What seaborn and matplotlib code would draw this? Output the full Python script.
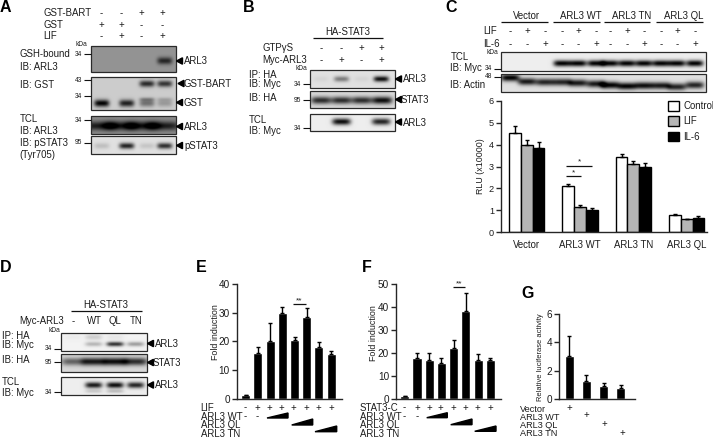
import numpy as np
import pandas as pd
import matplotlib
matplotlib.use('Agg')
import matplotlib.pyplot as plt
from matplotlib.patches import Polygon, Rectangle
import seaborn as sns

W, H = 713, 438

# bar chart values
c_groups = ['Vector', 'ARL3 WT', 'ARL3 TN', 'ARL3 QL']
c_treat = ['Control', 'LIF', 'IL-6']
c_control = [4.55, 2.1, 3.45, 0.78]
c_lif = [4.0, 1.15, 3.1, 0.58]
c_il6 = [3.85, 1.0, 2.97, 0.66]
c_control_err = [0.3, 0.1, 0.13, 0.04]
c_lif_err = [0.2, 0.07, 0.15, 0.02]
c_il6_err = [0.25, 0.1, 0.18, 0.06]

e_vals = [1.2, 16, 20, 30, 20.3, 28.5, 18, 15.7]
e_err = [0, 1.9, 6.5, 2, 1.3, 3, 1.9, 1]
f_vals = [1, 17.5, 17, 15.7, 22, 38, 17, 17]
f_err = [0, 2.5, 3, 1.8, 3.5, 8, 2.3, 0.8]
g_vals = [3, 1.3, 0.9, 0.75]
g_err = [1.4, 0.4, 0.2, 0.25]

# lane signs
a_bart = ['-', '-', '+', '+']
a_gst = ['+', '+', '-', '-']
a_lif = ['-', '+', '-', '+']
b_gtp = ['-', '-', '+', '+']
b_myc = ['-', '+', '-', '+']
c_lif_signs = ['-', '+', '-'] * 4
c_il6_signs = ['-', '-', '+'] * 4
d_lanes = ['-', 'WT', 'QL', 'TN']
ef_signs = ['-', '+', '+', '+', '+', '+', '+', '+']

# band intensities per lane
a_gsh = [0, 0, 0, 0.75]
a_bart_band = [0, 0, 0.8, 0.75]
a_gst_band = [1, 0.85, 0.45, 0.25]
a_gst_upper = [0, 0, 0.3, 0.15]
a_tcl = [0.8, 0.8, 0.8, 0.8]
a_pstat = [0.15, 0.85, 0.12, 0.8]
b_ip = [0.05, 0.45, 0.05, 0.95]
b_ha = [0.8, 0.8, 0.8, 0.95]
b_tcl = [0, 0.95, 0, 0.85]
c_myc = [0, 0, 0] + [1] * 9
c_actin = [1, 0.9, 0.85, 0.85, 0.9, 0.9, 1, 1, 0.95, 0.9, 0.85, 0.85]
c_actin_y = [0.2, 0.42, 0.45, 0.45, 0.5, 0.55, 0.62, 0.68, 0.65, 0.65, 0.72, 0.62]
d_ip = [0, 0.25, 0.8, 0.35]
d_ip_upper = [0.03, 0.15, 0.05, 0]
d_ha = [0.55, 0.9, 0.95, 0.8]
d_tcl = [0, 0.9, 0.95, 0.85]
d_tcl_lower = [0, 0.15, 0.2, 0]

TXT = '#1c1c1c'

sns.set_style('ticks')
plt.rcParams['font.family'] = ['Liberation Sans', 'DejaVu Sans']
plt.rcParams['axes.linewidth'] = 1.0

fig = plt.figure(figsize=(W / 100, H / 100), dpi=100)


def px_axes(x0, y_top, x1, y_bot):
    return fig.add_axes([x0 / W, 1 - y_bot / H, (x1 - x0) / W, (y_bot - y_top) / H])


ov = fig.add_axes([0, 0, 1, 1], zorder=5)
ov.patch.set_alpha(0)
ov.axis('off')


def t(x, y, s, size=6.9, ha='left', **kw):
    ov.text(x, y, s, fontsize=size, ha=ha, va='center', color=TXT, **kw)


def signs(xs, y, row, size=6.9):
    for x, s in zip(xs, row):
        t(x, y, s, size=size, ha='center')


def hline(x0, x1, y, lw=0.9):
    ov.plot([x0, x1], [y, y], color='#111111', lw=lw, solid_capstyle='butt')


def blot(x0, y0, x1, y1, bg, lanes, bands, sx=0.09):
    # bands: (intensities, y position as fraction, band half height as fraction)
    nx, ny = max(int((x1 - x0) * 2), 2), max(int((y1 - y0) * 2), 2)
    xx, yy = np.meshgrid(np.linspace(0, 1, nx), np.linspace(0, 1, ny))
    img = np.full((ny, nx), float(bg))
    for vals, yf, sy in bands:
        yfs = yf if isinstance(yf, list) else [yf] * len(vals)
        for lane, v, yc in zip(lanes, vals, yfs):
            img -= v * bg * np.exp(-((xx - lane) / sx) ** 4 - ((yy - yc) / sy) ** 2)
    ov.imshow(np.clip(img, 0, 1), cmap='gray', vmin=0, vmax=1, aspect='auto',
              extent=(x0, x1, y1, y0), interpolation='bilinear')
    ov.add_patch(Rectangle((x0, y0), x1 - x0, y1 - y0, fill=False, ec='#2a2a2a', lw=0.9))


def kda(x_label, x0, x1, y, s):
    t(x_label, y, s, size=4.8, ha='right')
    hline(x0, x1, y, lw=0.8)


def arrow(x, y, label, xt=None):
    ov.add_patch(Polygon([[x, y], [x + 6, y - 3.2], [x + 6, y + 3.2]], color='black'))
    t(xt if xt else x + 7.5, y + 0.5, label)


def wedge(x0, x1, y_base, y_top):
    ov.add_patch(Polygon([[x0, y_base], [x1, y_top], [x1, y_base]], color='black'))


def style_bar_axis(ax, ticks, ylabel_size=7.2):
    sns.despine(ax=ax)
    ax.set_xlabel('')
    ax.set_ylabel('')
    ax.set_xticks([])
    ax.set_yticks(ticks)
    ax.tick_params(axis='y', labelsize=ylabel_size, length=3.5, width=1, pad=1.5, labelcolor=TXT)
    ax.patch.set_alpha(0)


def simple_bars(axbox, vals, err, ymax, ticks, xlim, width):
    ax = px_axes(*axbox)
    df = pd.DataFrame({'lane': [str(i) for i in range(len(vals))], 'value': vals})
    sns.barplot(data=df, x='lane', y='value', color='black', width=width, errorbar=None,
                saturation=1, ax=ax)
    xs = [p.get_x() + p.get_width() / 2 for p in ax.patches]
    ax.errorbar(xs, vals, yerr=[np.zeros(len(err)), err], fmt='none', ecolor='black',
                elinewidth=1, capsize=1.6, capthick=1)
    ax.set_xlim(*xlim)
    ax.set_ylim(0, ymax)
    style_bar_axis(ax, ticks)
    return ax


# panel letters
for x, y, s in [(0, 8, 'A'), (243, 8, 'B'), (445, 7, 'C'), (0, 267, 'D'),
                (196, 267, 'E'), (362, 267, 'F'), (521, 294, 'G')]:
    ov.text(x, y, s, fontsize=11.5, fontweight='bold', ha='left', va='center', color='black')

# ---- panel A
a_x = [101, 121, 141, 162]
t(43, 13, 'GST-BART')
t(43, 25, 'GST')
t(43, 36, 'LIF')
signs(a_x, 13, a_bart)
signs(a_x, 25, a_gst)
signs(a_x, 36, a_lif)
a_l = [0.125, 0.42, 0.66, 0.87]
blot(91, 46, 176, 72, 0.58, a_l, [(a_gsh, 0.57, 0.14)])
blot(91, 77, 176, 110, 0.8, a_l, [(a_bart_band, 0.2, 0.1), (a_gst_band, 0.8, 0.11), (a_gst_upper, 0.68, 0.06)])
blot(91, 116, 176, 134, 0.55, [0.1, 0.35, 0.6, 0.85], [(a_tcl, 0.55, 0.25)], sx=0.2)
blot(91, 136, 176, 154, 0.88, a_l, [(a_pstat, 0.55, 0.17)])
t(19.5, 54, 'GSH-bound')
t(19.5, 66.5, 'IB: ARL3')
t(19.5, 84.5, 'IB: GST')
t(19.5, 119.5, 'TCL')
t(19.5, 130.5, 'IB: ARL3')
t(19.5, 143.5, 'IB: pSTAT3')
t(19.5, 155, '(Tyr705)')
t(87, 44.5, 'kDa', size=4.8, ha='right')
kda(82, 84, 91, 54, '34')
kda(82, 84, 91, 80, '43')
kda(82, 84, 91, 96, '34')
kda(82, 84, 91, 120, '34')
kda(82, 84, 91, 143, '95')
arrow(176.5, 61, 'ARL3')
arrow(178, 83.5, 'GST-BART', xt=183.5)
arrow(176.5, 102.5, 'GST')
arrow(176.5, 126.5, 'ARL3')
arrow(176.5, 145.5, 'pSTAT3')

# ---- panel B
b_x = [321, 341, 361, 381]
t(348, 32, 'HA-STAT3', ha='center')
hline(313, 383, 38)
t(262.5, 48, 'GTPγS')
t(262.5, 60, 'Myc-ARL3')
signs(b_x, 48, b_gtp)
signs(b_x, 60, b_myc)
b_l = [0.125, 0.37, 0.61, 0.84]
blot(310, 70, 395, 88, 0.88, b_l, [(b_ip, 0.5, 0.16)])
blot(310, 91, 395, 108, 0.85, [0.13, 0.37, 0.61, 0.85], [(b_ha, 0.55, 0.22)], sx=0.12)
blot(310, 114, 395, 131, 0.93, b_l, [(b_tcl, 0.45, 0.2)], sx=0.11)
t(249, 74.5, 'IP: HA')
t(249, 84, 'IB: Myc')
t(249, 98, 'IB: HA')
t(249, 120, 'TCL')
t(249, 131, 'IB: Myc')
t(307, 68.5, 'kDa', size=4.8, ha='right')
kda(301, 303, 310, 84, '34')
kda(301, 303, 310, 100, '95')
kda(301, 303, 310, 128, '34')
arrow(395.5, 79, 'ARL3')
arrow(395.5, 99.5, 'STAT3', xt=401)
arrow(395.5, 122, 'ARL3')

# ---- panel C blots
c_x = [510, 527, 545, 562, 578, 596, 610, 627, 644, 661, 677, 695]
for cx, (x0, x1), name in zip([527, 577, 628, 680],
                              [(501, 548), (553, 600), (604, 650), (656, 703)],
                              ['Vector', 'ARL3 WT', 'ARL3 TN', 'ARL3 QL']):
    t(cx + 4 if name != 'Vector' else cx, 16, name, ha='center')
    hline(x0, x1, 22)
t(483, 31, 'LIF')
t(483, 44, 'IL-6')
signs(c_x, 31, c_lif_signs)
signs(c_x, 44, c_il6_signs)
c_l = [(x - 501) / 205 for x in c_x]
blot(501, 52, 706, 71, 0.93, c_l, [(c_myc, 0.6, 0.17)], sx=0.042)
blot(501, 74, 706, 92, 0.88, c_l, [(c_actin, c_actin_y, 0.2)], sx=0.045)
t(450.5, 57, 'TCL')
t(450.5, 68, 'IB: Myc')
t(450.5, 84.5, 'IB: Actin')
t(498, 52.5, 'kDa', size=4.8, ha='right')
kda(492, 494, 501, 69, '34')
kda(492, 494, 501, 77, '48')

# ---- panel C bars
ax_c = px_axes(501, 101, 706.7, 232)
df_c = pd.DataFrame({
    'group': c_groups * 3,
    'treat': np.repeat(c_treat, 4),
    'value': c_control + c_lif + c_il6,
})
sns.barplot(data=df_c, x='group', y='value', hue='treat', order=c_groups, hue_order=c_treat,
            palette=['white', '#b5b5b5', 'black'], width=0.665, gap=0, saturation=1,
            errorbar=None, edgecolor='black', linewidth=1, ax=ax_c)
for cont, err in zip(ax_c.containers, [c_control_err, c_lif_err, c_il6_err]):
    xs = [b.get_x() + b.get_width() / 2 for b in cont]
    ys = [b.get_height() for b in cont]
    ax_c.errorbar(xs, ys, yerr=[np.zeros(4), err], fmt='none', ecolor='black',
                  elinewidth=1, capsize=1.6, capthick=1)
ax_c.set_xlim(-0.483, 3.376)
ax_c.set_ylim(0, 6)
handles, labels = ax_c.get_legend_handles_labels()
style_bar_axis(ax_c, [0, 1, 2, 3, 4, 5, 6], ylabel_size=6.6)
ax_c.set_xticks(range(4))
ax_c.set_xticklabels(c_groups, fontsize=6.9, color=TXT)
ax_c.tick_params(axis='x', length=0, pad=6)
ax_c.legend(handles, labels, loc='upper left', bbox_to_anchor=(0.812, 1.0), frameon=False,
            fontsize=6.9, handlelength=1.15, handleheight=1.15, handletextpad=0.45,
            labelspacing=0.55, borderpad=0, borderaxespad=0, labelcolor=TXT)
ax_c.spines['bottom'].set_linewidth(1)
t(480.7, 166, 'RLU (x10000)', size=6.4, ha='center', rotation=90)
hline(565.7, 591.7, 166)
hline(565.7, 580.7, 176.3)
t(580, 162, '*', size=6, ha='center')
t(573.7, 172.5, '*', size=6, ha='center')

# ---- panel D
d_x = [73, 94, 115, 136]
t(106, 305, 'HA-STAT3', ha='center')
hline(71, 142, 311)
t(19, 321, 'Myc-ARL3')
signs(d_x, 321, d_lanes)
d_l = [0.14, 0.38, 0.63, 0.87]
blot(61, 333, 147, 351, 0.95, d_l, [(d_ip, 0.62, 0.13), (d_ip_upper, 0.22, 0.16)], sx=0.1)
blot(61, 354, 147, 372, 0.85, d_l, [(d_ha, 0.42, 0.22)], sx=0.14)
blot(61, 377, 147, 395, 0.93, d_l, [(d_tcl, 0.45, 0.17), (d_tcl_lower, 0.8, 0.1)], sx=0.1)
t(2, 336, 'IP: HA')
t(2, 345, 'IB: Myc')
t(2, 360, 'IB: HA')
t(2, 382, 'TCL')
t(2, 393, 'IB: Myc')
t(60, 331, 'kDa', size=4.8, ha='right')
kda(52, 54, 61, 349, '34')
kda(52, 54, 61, 362, '95')
kda(52, 54, 61, 392, '34')
arrow(147.5, 343.5, 'ARL3')
arrow(147.5, 362.5, 'STAT3', xt=153)
arrow(147.5, 385, 'ARL3')

# ---- panel E
simple_bars((236.7, 284, 341.7, 398.7), e_vals, e_err, 40, [0, 10, 20, 30, 40], (-0.74, 7.87), 0.75)
t(216, 332, 'Fold induction', size=6.4, ha='center', rotation=90)
hline(293, 306, 304)
t(299.5, 300.5, '**', size=6, ha='center')
e_x = [245.7, 257.7, 269.7, 281, 293.7, 306, 318.3, 331]
t(200.7, 408, 'LIF')
t(200.7, 417, 'ARL3 WT')
t(200.7, 425.5, 'ARL3 QL')
t(200.7, 434, 'ARL3 TN')
signs(e_x, 407.5, ef_signs)
signs(e_x[:2], 416.5, ['-', '-'])
wedge(267, 288, 418, 413)
wedge(291.7, 312.7, 425, 419)
wedge(315, 336.7, 431.7, 426)

# ---- panel F
simple_bars((396, 283.7, 500.7, 398.7), f_vals, f_err, 50, [0, 10, 20, 30, 40, 50], (-0.72, 7.85), 0.75)
t(373, 333, 'Fold induction', size=6.4, ha='center', rotation=90)
hline(452.7, 465, 287)
t(458.8, 283.5, '**', size=6, ha='center')
f_x = [404.7, 417, 429, 440, 453, 465, 477.3, 490]
t(360, 408, 'STAT3-C')
t(360, 416.5, 'ARL3 WT')
t(360, 425, 'ARL3 QL')
t(360, 434, 'ARL3 TN')
signs(f_x, 407.5, ef_signs)
signs(f_x[:2], 416.5, ['-', '-'])
wedge(426.7, 447.3, 417.7, 412.7)
wedge(450.7, 472, 424.7, 419)
wedge(474.7, 496, 431.3, 426)

# ---- panel G
simple_bars((559, 313.7, 635, 399), g_vals, g_err, 6, [0, 2, 4, 6], (-0.6, 3.83), 0.52)
t(540, 357, 'Relative luciferase activity', size=5.4, ha='center', rotation=90)
t(520, 409, 'Vector', size=6.6)
t(520, 417.7, 'ARL3 WT', size=6.6)
t(520, 426, 'ARL3 QL', size=6.6)
t(520, 434, 'ARL3 TN', size=6.6)
for x, y in zip([569, 586.7, 604, 622], [407.7, 415, 424, 433]):
    t(x, y, '+', ha='center')

ov.set_xlim(0, W)
ov.set_ylim(H, 0)

fig.savefig('out.png', dpi=100)
